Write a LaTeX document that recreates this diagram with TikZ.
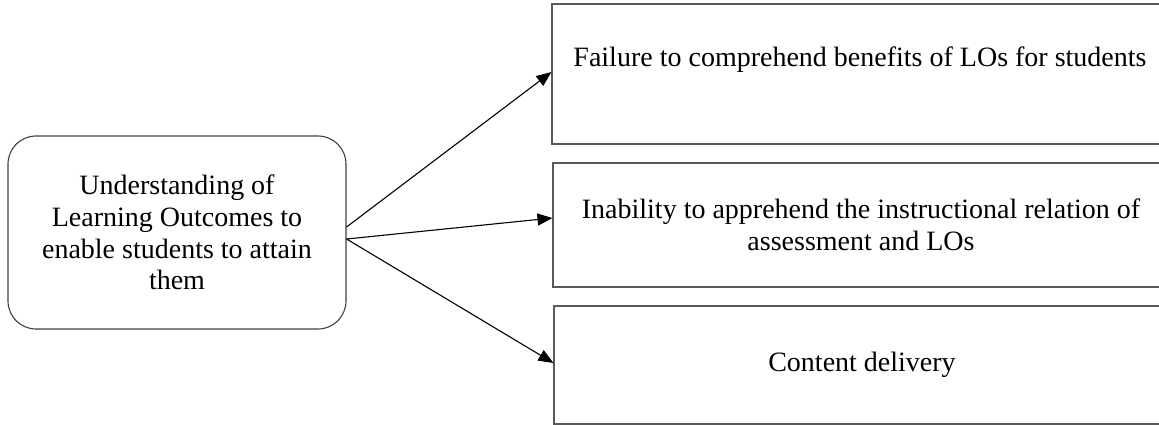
\documentclass[tikz,border=0pt]{standalone}
\usepackage{fontspec}
\setmainfont{Liberation Serif}
\usetikzlibrary{arrows.meta,calc}
\begin{document}
\begin{tikzpicture}[x=1pt,y=-1pt,
  every node/.style={font=\fontsize{28}{31.7}\selectfont},
  mainbox/.style={draw=black!75, line width=1.1pt, rounded corners=28pt, minimum width=338pt, minimum height=193pt, align=center, inner sep=0pt},
  outbox/.style={draw=black!65, line width=1.1pt, minimum width=616pt, align=center, inner sep=0pt},
  conn/.style={line width=1.1pt, -{Triangle[length=15pt,width=12pt]}}]
\useasboundingbox (0,0) rectangle (1159,425);
\clip (0,0) rectangle (1159,425);
\node[mainbox] (main) at (177,232.5) {Understanding of\\Learning Outcomes to\\enable students to attain\\them};
\node[outbox, minimum height=140pt, text height=63pt, text depth=77pt] (b1) at (860,74) {Failure to comprehend benefits of LOs for students};
\node[outbox, minimum height=124pt] (b2) at (861,225) {Inability to apprehend the instructional relation of\\assessment and LOs};
\node[outbox, minimum height=118pt] (b3) at (862,365) {Content delivery};
\coordinate (s1) at ($(main.east)+(0,-5.5)$);
\coordinate (s2) at ($(main.east)+(0,6.5)$);
\draw[conn] (s1) -- ($(b1.west)+(0,-2)$);
\draw[conn] (s2) -- ($(b2.west)+(0,-7)$);
\draw[conn] (s2) -- ($(b3.west)+(0,-2)$);
\end{tikzpicture}
\end{document}
